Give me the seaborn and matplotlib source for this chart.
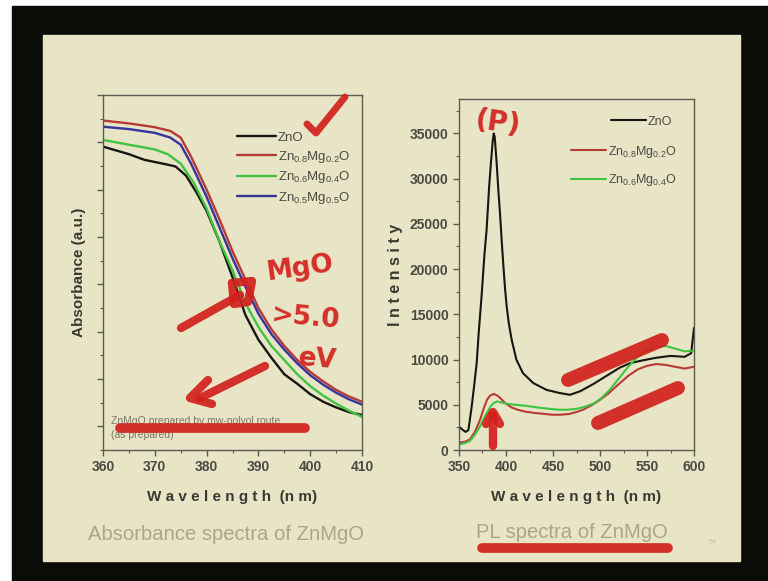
import numpy as np
import pandas as pd
import matplotlib
matplotlib.use("Agg")
import matplotlib.pyplot as plt
import seaborn as sns
from matplotlib.lines import Line2D
from matplotlib.patches import Rectangle
from matplotlib.ticker import AutoMinorLocator, NullFormatter

sns.set_theme(style="ticks")
plt.rcParams['font.family'] = ['Liberation Sans', 'DejaVu Sans']
plt.rcParams['mathtext.default'] = 'regular'

# ---------------- data: absorbance (left panel) ----------------
abs_labels = ["ZnO", "Zn$_{0.8}$Mg$_{0.2}$O", "Zn$_{0.6}$Mg$_{0.4}$O", "Zn$_{0.5}$Mg$_{0.5}$O"]
abs_colors = ["#161612", "#b83a34", "#3fc43f", "#34349c"]

abs_wl_zno = [360, 365, 368, 372, 374, 376, 378, 380, 382.5, 385, 387.5, 390, 392.5, 395, 397.5, 400, 402.5, 405, 407.5, 410]
abs_zno = [0.691, 0.675, 0.663, 0.654, 0.649, 0.630, 0.595, 0.555, 0.490, 0.415, 0.335, 0.283, 0.245, 0.210, 0.190, 0.168, 0.152, 0.140, 0.130, 0.124]

abs_wl = [360, 365, 370, 373, 375, 377, 380, 382.5, 385, 387.5, 390, 392.5, 395, 397.5, 400, 402.5, 405, 407.5, 410]
abs_mg02 = [0.746, 0.740, 0.732, 0.724, 0.710, 0.670, 0.600, 0.537, 0.470, 0.410, 0.350, 0.305, 0.270, 0.240, 0.215, 0.195, 0.177, 0.163, 0.152]
abs_mg05 = [0.733, 0.728, 0.720, 0.710, 0.695, 0.655, 0.585, 0.520, 0.455, 0.395, 0.338, 0.295, 0.262, 0.233, 0.208, 0.188, 0.171, 0.157, 0.146]

abs_wl_mg04 = [360, 365, 370, 372.5, 375, 377.5, 380, 382.5, 385, 387.5, 390, 392.5, 395, 397.5, 400, 402.5, 405, 407.5, 410]
abs_mg04 = [0.705, 0.695, 0.685, 0.675, 0.655, 0.615, 0.560, 0.490, 0.430, 0.360, 0.310, 0.270, 0.240, 0.210, 0.185, 0.165, 0.148, 0.133, 0.120]

# ---------------- data: PL (right panel) ----------------
pl_labels = ["ZnO", "Zn$_{0.8}$Mg$_{0.2}$O", "Zn$_{0.6}$Mg$_{0.4}$O"]
pl_colors = ["#161612", "#b83a34", "#3fc43f"]

pl_wl_zno = [350, 353, 357, 360, 363.5, 366, 368.8, 371, 374, 377, 379.4, 382, 384, 386, 387, 388, 390, 392,
             393.6, 395.5, 397, 399, 400.7, 403, 406, 411, 418, 429, 443, 457, 468, 479, 493, 507, 521, 532,
             545, 560, 575, 590, 597, 600]
pl_zno = [2600, 2300, 2000, 2200, 4800, 7000, 9600, 13000, 17000, 21500, 24400, 29000, 31800, 34300, 35000, 34600,
          31800, 28500, 26200, 23000, 20700, 17800, 15900, 14000, 12200, 10000, 8500, 7400, 6650, 6300, 6100, 6500,
          7300, 8200, 9100, 9600, 9900, 10200, 10400, 10300, 10700, 13500]

pl_wl_mg02 = [350, 356, 361.6, 367, 372.5, 376, 379.8, 383, 387, 391, 394, 398, 401.6, 406, 412.5, 420, 430.7, 440,
              449, 458, 467, 475, 482, 491, 500, 509, 518, 530, 540, 550, 560, 570, 580, 590, 600]
pl_mg02 = [800, 900, 1170, 2000, 3360, 4500, 5550, 6000, 6200, 6000, 5730, 5300, 5000, 4700, 4450, 4250, 4090, 4000,
           3900, 3900, 3980, 4200, 4450, 4950, 5550, 6250, 7100, 8200, 8900, 9300, 9500, 9400, 9200, 9000, 9200]

pl_wl_mg04 = [350, 356, 361.6, 367, 372.5, 378, 383.5, 387, 390.7, 395, 401.6, 410, 420, 430, 438, 447, 456, 465,
              474, 483, 492.5, 501, 510, 520, 530, 540, 550, 560, 570, 580, 590, 600]
pl_mg04 = [620, 750, 985, 1700, 2630, 3800, 4800, 5200, 5370, 5250, 5100, 5000, 4900, 4750, 4640, 4550, 4450, 4450,
           4530, 4750, 5100, 5700, 6600, 7900, 9200, 10300, 11000, 11400, 11500, 11200, 10900, 11000]

df_abs = pd.concat([
    pd.DataFrame({"wl": abs_wl_zno, "val": abs_zno, "sample": abs_labels[0]}),
    pd.DataFrame({"wl": abs_wl, "val": abs_mg02, "sample": abs_labels[1]}),
    pd.DataFrame({"wl": abs_wl_mg04, "val": abs_mg04, "sample": abs_labels[2]}),
    pd.DataFrame({"wl": abs_wl, "val": abs_mg05, "sample": abs_labels[3]}),
], ignore_index=True)

df_pl = pd.concat([
    pd.DataFrame({"wl": pl_wl_zno, "val": pl_zno, "sample": pl_labels[0]}),
    pd.DataFrame({"wl": pl_wl_mg02, "val": pl_mg02, "sample": pl_labels[1]}),
    pd.DataFrame({"wl": pl_wl_mg04, "val": pl_mg04, "sample": pl_labels[2]}),
], ignore_index=True)

# ---------------- figure ----------------
W, H = 768, 581
fig = plt.figure(figsize=(W / 100, H / 100), dpi=100)
fig.patch.set_facecolor("white")

def fx(x):
    return x / W

def fy(y):
    return 1 - y / H

fig.add_artist(Rectangle((fx(12), 0), 1 - fx(12), fy(6), transform=fig.transFigure,
                         color="#0b0b08", zorder=-10))
fig.add_artist(Rectangle((fx(43), fy(561)), fx(740) - fx(43), fy(35) - fy(561),
                         transform=fig.transFigure, color="#e8e4c6", zorder=-9))

ax1 = fig.add_axes([fx(103), fy(450), (362 - 103) / W, (450 - 95) / H])
ax2 = fig.add_axes([fx(459), fy(450), (694 - 459) / W, (450 - 99) / H])

spine_c = "#5c5c52"
tick_c = "#4a4a42"
for ax in (ax1, ax2):
    ax.set_facecolor("none")
    for s in ax.spines.values():
        s.set_color(spine_c)
        s.set_linewidth(1.0)
        s.set_visible(True)
    ax.tick_params(which="both", direction="out", colors=spine_c, labelcolor=tick_c)
    ax.tick_params(which="major", length=4, width=1)
    ax.tick_params(which="minor", length=2.5, width=0.8)

sns.lineplot(data=df_abs, x="wl", y="val", hue="sample", hue_order=abs_labels,
             palette=abs_colors, estimator=None, sort=False, linewidth=1.7, ax=ax1)
sns.lineplot(data=df_pl, x="wl", y="val", hue="sample", hue_order=pl_labels,
             palette=pl_colors, estimator=None, sort=False, linewidth=1.5, ax=ax2)

label_c = "#3a3a32"

# left axis formatting
ax1.set_xlim(360, 410)
ax1.set_ylim(0.05, 0.8)
ax1.set_xticks(np.arange(360, 411, 10))
ax1.set_yticks(np.arange(0.1, 0.81, 0.1))
ax1.yaxis.set_major_formatter(NullFormatter())
ax1.xaxis.set_minor_locator(AutoMinorLocator(2))
ax1.yaxis.set_minor_locator(AutoMinorLocator(2))
for lab in ax1.get_xticklabels():
    lab.set_fontweight("bold")
    lab.set_fontsize(10)
ax1.set_xlabel("W a v e l e n g t h  (n m)", fontsize=11, fontweight="bold", color=label_c, labelpad=11)
ax1.set_ylabel("Absorbance (a.u.)", fontsize=11, fontweight="bold", color=label_c, labelpad=5)

h, l = ax1.get_legend_handles_labels()
ax1.legend(h, l, loc="upper left", bbox_to_anchor=(0.47, 0.93), frameon=False, fontsize=9.5,
           handlelength=3.0, handletextpad=0.1, labelspacing=0.35, labelcolor="#4a4a42")

# right axis formatting
ax2.set_xlim(350, 600)
ax2.set_ylim(0, 38800)
ax2.set_xticks(np.arange(350, 601, 50))
ax2.set_yticks(np.arange(0, 35001, 5000))
ax2.xaxis.set_minor_locator(AutoMinorLocator(2))
ax2.yaxis.set_minor_locator(AutoMinorLocator(2))
for lab in ax2.get_xticklabels() + ax2.get_yticklabels():
    lab.set_fontweight("bold")
    lab.set_fontsize(10)
ax2.set_xlabel("W a v e l e n g t h  (n m)", fontsize=11, fontweight="bold", color=label_c, labelpad=11)
ax2.set_ylabel("I n t e n s i t y", fontsize=11.5, fontweight="bold", color=label_c, labelpad=5)

h, l = ax2.get_legend_handles_labels()
leg_zno = ax2.legend(h[:1], l[:1], loc="upper left", bbox_to_anchor=(0.6, 0.985), frameon=False,
                     fontsize=9, handlelength=2.8, handletextpad=0.1, labelcolor="#4a4a42")
ax2.add_artist(leg_zno)
ax2.legend(h[1:], l[1:], loc="upper left", bbox_to_anchor=(0.43, 0.905), frameon=False, fontsize=9,
           handlelength=2.8, handletextpad=0.1, labelspacing=1.0, labelcolor="#4a4a42")

ax1.text(0.03, 0.097, "ZnMgO prepared by mw-polyol route\n(as prepared)", transform=ax1.transAxes,
         fontsize=7.5, color="#77776a", va="top", ha="left", linespacing=1.6)

# slide captions
fig.text(fx(226), fy(535), "Absorbance spectra of ZnMgO", ha="center", va="center",
         fontsize=14.6, color="#aca587")
fig.text(fx(572), fy(533), "PL spectra of ZnMgO", ha="center", va="center",
         fontsize=14.6, color="#aca587")
fig.text(fx(713), fy(543), "54", ha="center", va="center", fontsize=5, color="#c8c2a6")

# hand-drawn red annotations (pen strokes on the slide)
red = "#d2201c"

def stroke(xs, ys, lw=6):
    fig.add_artist(Line2D([fx(x) for x in xs], [fy(y) for y in ys], transform=fig.transFigure,
                          color=red, lw=lw, solid_capstyle="round", solid_joinstyle="round", alpha=0.92))

stroke([307, 316, 345], [124, 133, 97], lw=5)                   # check mark
stroke([181, 240], [328, 295], lw=6)                            # arrow 1 shaft
stroke([232, 252, 248, 234, 232], [283, 281, 302, 304, 283], lw=6)  # arrow 1 head box
stroke([265, 200], [366, 398], lw=6)                            # arrow 2 shaft
stroke([208, 190, 212], [380, 398, 404], lw=6)                  # arrow 2 head
stroke([120, 305], [428, 428], lw=7)                            # underline in plot
stroke([482, 668], [548, 548], lw=7)                            # caption underline
stroke([493, 493], [446, 415], lw=6)                            # up arrow shaft
stroke([486, 493, 500], [424, 412, 424], lw=6)                  # up arrow head
stroke([568, 662], [380, 340], lw=10)                           # stroke 1
stroke([598, 678], [423, 388], lw=10)                           # stroke 2

fig.text(fx(300), fy(268), "MgO", ha="center", va="center", fontsize=19, fontweight="bold",
         color=red, rotation=8, family=["DejaVu Sans"], alpha=0.92)
fig.text(fx(305), fy(318), ">5.0", ha="center", va="center", fontsize=19, fontweight="bold",
         color=red, rotation=-5, family=["DejaVu Sans"], alpha=0.92)
fig.text(fx(318), fy(360), "eV", ha="center", va="center", fontsize=19, fontweight="bold",
         color=red, rotation=-5, family=["DejaVu Sans"], alpha=0.92)
fig.text(fx(498), fy(123), "(P)", ha="center", va="center", fontsize=20, fontweight="bold",
         color=red, rotation=-8, family=["DejaVu Sans"], alpha=0.92)

fig.savefig("out.png", dpi=100, facecolor=fig.get_facecolor())
